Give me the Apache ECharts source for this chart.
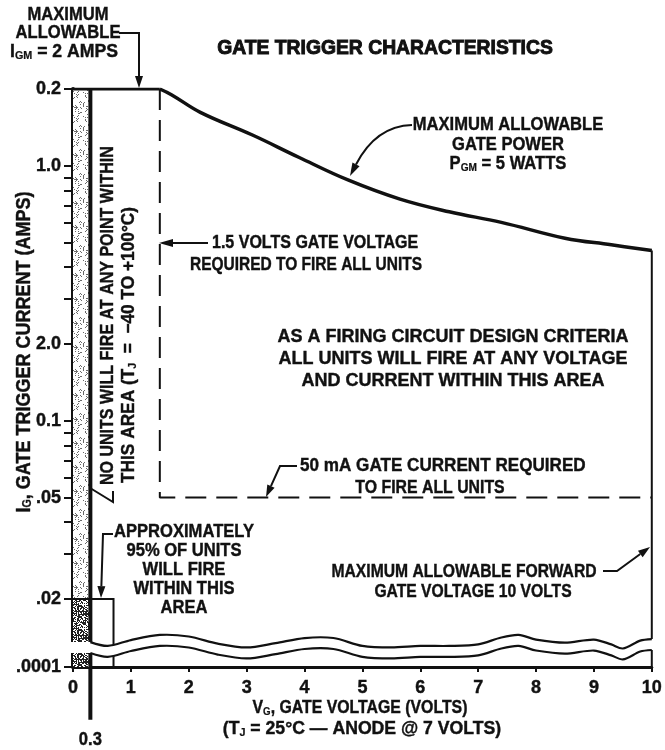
<!DOCTYPE html>
<html>
<head>
<meta charset="utf-8">
<script src="https://cdn.jsdelivr.net/npm/echarts@6/dist/echarts.min.js"></script>
<style>
  html, body { margin: 0; padding: 0; background: #fff; }
  #chart { width: 665px; height: 750px; }
</style>
</head>
<body>
<div id="chart"></div>
<script>
// ---- data -------------------------------------------------------------
// gate voltage axis (volts)
const xTickVolts = [0, 1, 2, 3, 4, 5, 6, 7, 8, 9, 10];

// gate current axis: labelled currents (amps) and the text printed beside them
const yTickAmps = [2, 1, 0.2, 0.1, 0.05, 0.02];
const yTickText = ['0.2', '1.0', '2.0', '0.1', '.05', '.02'];
const yMinorAmps = [0.9, 0.8, 0.7, 0.6, 0.5, 0.4, 0.3, 0.09, 0.08, 0.07, 0.06, 0.04, 0.03];
const floorText = '.0001';

// maximum gate current I_GM held flat up to 1.5 V
const igmVolts = [0, 1.5];
const igmAmps = [2, 2];

// maximum gate power curve P_GM = 5 W
const powerVolts = [1.5, 1.7, 2.2, 3.1, 3.9, 4.75, 5.65, 6.5, 7.4, 8.5, 9.3, 10];
const powerAmps = [2.0, 1.9, 1.62, 1.32, 1.08, 0.88, 0.74, 0.66, 0.60, 0.52, 0.49, 0.465];

// gate voltage / current needed to fire all units
const fireVolts = 1.5;
const fireAmps = 0.05;

// no-fire strip and the 95 % firing box
const noFireVolts = [0, 0.3];
const boxRightVolts = 0.7;
const boxTopAmps = 0.02;

// maximum forward gate voltage
const maxGateVolts = 10;

// axis break below .02 A (values in decades of amps on the current axis)
const breakVolts = [0.3, 0.6, 1.0, 1.5, 2.0, 2.5, 3.0, 3.5, 4.0, 4.5, 5.0, 5.5, 6.0, 6.5, 7.0, 7.4, 7.7, 8.0, 8.5, 9.0, 9.3, 9.5, 9.8, 10.0];
const breakUpper = [-1.868, -1.883, -1.860, -1.840, -1.846, -1.874, -1.889, -1.872, -1.852, -1.852, -1.883, -1.889, -1.883, -1.883, -1.877, -1.850, -1.840, -1.858, -1.870, -1.858, -1.877, -1.893, -1.862, -1.856];
const breakLower = [-1.911, -1.926, -1.903, -1.883, -1.889, -1.917, -1.932, -1.915, -1.895, -1.895, -1.926, -1.932, -1.926, -1.926, -1.920, -1.893, -1.883, -1.901, -1.913, -1.901, -1.920, -1.936, -1.905, -1.899];
const axisFloor = -1.9656;  // bottom of the current axis, beyond the break
const tickDrop = 0.207;     // how far the 0.3 V line runs below the voltage axis

// ---- helpers -----------------------------------------------------------
const LG = Math.log10;
const INK = '#111';
const FONT = "'Liberation Sans', Arial, sans-serif";
const SQUEEZE = 0.92;       // narrow lettering
const TOP = LG(igmAmps[0]);

function stipple(size, threshold, color) {
  const c = document.createElement('canvas');
  c.width = size; c.height = size;
  const g = c.getContext('2d');
  g.fillStyle = '#fff';
  g.fillRect(0, 0, size, size);
  g.fillStyle = color;
  for (let i = 0; i < size; i++) {
    for (let j = 0; j < size; j++) {
      const h = (i * 7919 + j * 104729 + i * j * 31 + (i ^ j) * 13) % 97;
      if (h < threshold) g.fillRect(i, j, 1, 1);
    }
  }
  return c;
}
const lightDots = stipple(24, 14, '#6a6a6a');
const denseDots = stipple(24, 52, '#222');

const yTickLogs = yTickAmps.map(LG).concat([axisFloor]);
const yTickLabels = yTickText.concat([floorText]);
const yAllTicks = yTickLogs.concat(yMinorAmps.map(LG));

function tickLabel(v) {
  for (let i = 0; i < yTickLogs.length; i++) {
    if (Math.abs(yTickLogs[i] - v) < 1e-6) return yTickLabels[i];
  }
  return '';
}

function lineSeries(points, width, extra) {
  return Object.assign({
    type: 'line',
    data: points,
    symbol: 'none',
    silent: true,
    animation: false,
    lineStyle: { color: INK, width: width, cap: 'butt', join: 'miter' },
    z: 3
  }, extra || {});
}

// arrow: polyline ending in a filled head
function arrow(points, headLen, headW) {
  const n = points.length;
  const [x1, y1] = points[n - 1];
  const [x0, y0] = points[n - 2];
  const a = Math.atan2(y1 - y0, x1 - x0);
  const bx = x1 - headLen * Math.cos(a), by = y1 - headLen * Math.sin(a);
  const nx = -Math.sin(a) * headW / 2, ny = Math.cos(a) * headW / 2;
  const shaft = points.slice(0, n - 1).concat([[bx, by]]);
  return [
    { type: 'polyline', shape: { points: shaft }, style: { stroke: INK, lineWidth: 2, fill: null } },
    { type: 'polygon', shape: { points: [[x1, y1], [bx + nx, by + ny], [bx - nx, by - ny]] }, style: { fill: INK } }
  ];
}
function curvedArrow(p0, c, p1, headLen, headW) {
  const a = Math.atan2(p1[1] - c[1], p1[0] - c[0]);
  const bx = p1[0] - headLen * Math.cos(a), by = p1[1] - headLen * Math.sin(a);
  const nx = -Math.sin(a) * headW / 2, ny = Math.cos(a) * headW / 2;
  return [
    { type: 'bezierCurve', shape: { x1: p0[0], y1: p0[1], cpx1: c[0], cpy1: c[1], x2: bx, y2: by }, style: { stroke: INK, lineWidth: 2, fill: null } },
    { type: 'polygon', shape: { points: [p1, [bx + nx, by + ny], [bx - nx, by - ny]] }, style: { fill: INK } }
  ];
}

function richSet(size, weight) {
  return {
    m: { fontFamily: FONT, fontWeight: 'bold', fontSize: size, fill: INK, stroke: INK, lineWidth: weight, lineHeight: size + 1 },
    s: { fontFamily: FONT, fontWeight: 'bold', fontSize: Math.round(size * 0.62), fill: INK, stroke: INK, lineWidth: weight * 0.6,
         lineHeight: size + 1, padding: [Math.round(size * 0.4), 0, 0, 0] }
  };
}
function label(x, y, text, opts) {
  opts = opts || {};
  const size = opts.size || 18;
  const weight = opts.weight || 0.4;
  return {
    type: 'text', x: x, y: y, silent: true,
    rotation: opts.rotation || 0,
    scaleX: opts.scaleX || SQUEEZE,
    style: Object.assign({
      text: text, rich: richSet(size, weight),
      fontFamily: FONT, fontWeight: 'bold', fontSize: size, fill: INK, stroke: INK, lineWidth: weight,
      align: 'center', verticalAlign: 'middle', lineHeight: size + 1
    }, opts.style)
  };
}

// ---- chart -------------------------------------------------------------
const chart = echarts.init(document.getElementById('chart'), null, { renderer: 'canvas' });

const axisFont = { color: INK, fontFamily: FONT, fontWeight: 'bold', fontSize: 18, textBorderColor: INK, textBorderWidth: 0.4 };
const option = {
  animation: false,
  backgroundColor: '#fff',
  grid: { left: 73, right: 13, top: 89, bottom: 83, containLabel: false },
  xAxis: {
    type: 'value', min: 0, max: 10, interval: 1,
    axisLine: { onZero: false, lineStyle: { color: INK, width: 3 } },
    axisTick: { show: true, length: 5, lineStyle: { color: INK, width: 2 } },
    axisLabel: Object.assign({ margin: 12, customValues: xTickVolts, formatter: v => String(v) }, axisFont),
    splitLine: { show: false }
  },
  yAxis: {
    type: 'value', min: axisFloor, max: TOP,
    axisLine: { show: true, onZero: false, lineStyle: { color: INK, width: 4 } },
    axisTick: { show: true, length: 9, customValues: yAllTicks, lineStyle: { color: INK, width: 2 } },
    axisLabel: Object.assign({ margin: 12, customValues: yTickLogs, formatter: tickLabel }, axisFont),
    splitLine: { show: false }
  },
  series: [
    // no-fire strip, lighter above .02 A and denser below
    {
      type: 'custom', coordinateSystem: 'cartesian2d', silent: true, animation: false, z: 1,
      data: [
        [noFireVolts[0], TOP, noFireVolts[1], LG(boxTopAmps), 0],
        [noFireVolts[0], LG(boxTopAmps), noFireVolts[1], axisFloor, 1]
      ],
      renderItem: function (params, api) {
        const p0 = api.coord([api.value(0), api.value(1)]);
        const p1 = api.coord([api.value(2), api.value(3)]);
        return {
          type: 'rect',
          shape: { x: p0[0], y: p0[1], width: p1[0] - p0[0], height: p1[1] - p0[1] },
          style: { fill: { image: api.value(4) ? denseDots : lightDots, repeat: 'repeat' } }
        };
      }
    },
    lineSeries(igmVolts.map((v, i) => [v, LG(igmAmps[i])]), 3),
    lineSeries(powerVolts.map((v, i) => [v, LG(powerAmps[i])]), 3.5, { smooth: 0.4 }),
    lineSeries([[maxGateVolts, LG(powerAmps[powerAmps.length - 1])], [maxGateVolts, axisFloor]], 2),
    lineSeries([[fireVolts, TOP], [fireVolts, LG(fireAmps)], [maxGateVolts, LG(fireAmps)]], 2,
      { lineStyle: { color: INK, width: 2, type: [21, 10], cap: 'butt' } }),
    lineSeries([[noFireVolts[1], TOP], [noFireVolts[1], axisFloor - tickDrop]], 4, { clip: false }),
    lineSeries([[noFireVolts[0], LG(boxTopAmps)], [boxRightVolts, LG(boxTopAmps)], [boxRightVolts, axisFloor]], 2),
    // axis break: white gap bounded by two wavy lines
    {
      type: 'custom', coordinateSystem: 'cartesian2d', silent: true, animation: false, z: 10, clip: false,
      data: [[0, 0]],
      renderItem: function (params, api) {
        const up = breakVolts.map((v, i) => api.coord([v, breakUpper[i]]));
        const lo = breakVolts.map((v, i) => api.coord([v, breakLower[i]]));
        const leftUp = api.coord([-0.12, breakUpper[0]]);
        const leftLo = api.coord([-0.12, breakLower[0]]);
        const rightUp = api.coord([maxGateVolts + 0.05, breakUpper[breakUpper.length - 1]]);
        const rightLo = api.coord([maxGateVolts + 0.05, breakLower[breakLower.length - 1]]);
        const poly = [leftUp].concat(up, [rightUp, rightLo], lo.slice().reverse(), [leftLo]);
        return {
          type: 'group',
          children: [
            { type: 'polygon', shape: { points: poly }, style: { fill: '#fff' } },
            { type: 'polyline', shape: { points: up, smooth: 0.3 }, style: { stroke: INK, lineWidth: 2.2, fill: null } },
            { type: 'polyline', shape: { points: lo, smooth: 0.3 }, style: { stroke: INK, lineWidth: 2.2, fill: null } }
          ]
        };
      }
    }
  ]
};
chart.setOption(option);

// ---- annotations -------------------------------------------------------
const px = (v, a) => chart.convertToPixel({ gridIndex: 0 }, [v, a]);
const p03 = px(noFireVolts[1], axisFloor);

const g = [];
// title
g.push(label(385, 48, 'GATE TRIGGER CHARACTERISTICS', { size: 21, weight: 1.0 }));

// I_GM callout
g.push(label(68, 15, 'MAXIMUM'));
g.push(label(68, 33, 'ALLOWABLE'));
g.push(label(64, 52, '{m|I}{s|GM}{m| = 2 AMPS}', { scaleX: 0.98 }));
g.push(...arrow([[119, 33], [139, 33], [139, 88]], 12, 8));

// gate power callout
g.push(label(508, 125, 'MAXIMUM ALLOWABLE'));
g.push(label(508, 145, 'GATE POWER'));
g.push(label(508, 164, '{m|P}{s|GM}{m| = 5 WATTS}'));
g.push(...curvedArrow([412, 125], [376, 126], [350, 176], 13, 8));

// 1.5 V callout
g.push(label(212, 243, '1.5 VOLTS GATE VOLTAGE', { scaleX: 0.89, style: { align: 'left' } }));
g.push(label(306, 265, 'REQUIRED TO FIRE ALL UNITS', { scaleX: 0.86 }));
g.push(...arrow([[208, 243], [159, 243]], 14, 8));

// design area note
g.push(label(453, 337, 'AS A FIRING CIRCUIT DESIGN CRITERIA', { scaleX: 1 }));
g.push(label(453, 359, 'ALL UNITS WILL FIRE AT ANY VOLTAGE', { scaleX: 1 }));
g.push(label(453, 381, 'AND CURRENT WITHIN THIS AREA', { scaleX: 1 }));

// no-fire strip note (vertical)
g.push(label(108, 485, 'NO UNITS WILL FIRE AT ANY POINT WITHIN', { rotation: Math.PI / 2, scaleX: 0.89, style: { align: 'left' } }));
g.push(label(129, 483, '{m|THIS AREA (T}{s|J}{m|  =  −40 TO +100°C)}', { rotation: Math.PI / 2, scaleX: 0.96, style: { align: 'left' } }));
g.push(...arrow([[113, 491], [113, 502], [77, 480]], 12, 8));

// 50 mA callout
g.push(label(300, 466, '50 mA GATE CURRENT REQUIRED', { scaleX: 0.95, style: { align: 'left' } }));
g.push(label(430, 488, 'TO FIRE ALL UNITS', { scaleX: 0.88 }));
g.push(...arrow([[297, 466], [280, 466], [266, 497]], 12, 8));

// 95 % box note
g.push(label(184, 532, 'APPROXIMATELY'));
g.push(label(184, 551, '95% OF UNITS'));
g.push(label(184, 570, 'WILL FIRE'));
g.push(label(184, 589, 'WITHIN THIS'));
g.push(label(184, 608, 'AREA'));
g.push(...arrow([[113, 534], [103, 534], [101, 598]], 12, 8));

// forward gate voltage note
g.push(label(464, 572, 'MAXIMUM ALLOWABLE FORWARD', { scaleX: 0.87 }));
g.push(label(473, 592, 'GATE VOLTAGE 10 VOLTS', { scaleX: 0.87 }));
g.push(...arrow([[603, 571], [617, 571], [650, 547]], 12, 8));

// axis titles
g.push(label(24, 352, '{m|I}{s|G}{m|, GATE TRIGGER CURRENT (AMPS)}', { size: 20, rotation: Math.PI / 2, scaleX: 0.9 }));
g.push(label(360, 708, '{m|V}{s|G}{m|, GATE VOLTAGE (VOLTS)}', { scaleX: 0.88 }));
g.push(label(362, 729, '{m|(T}{s|J}{m| = 25°C — ANODE @ 7 VOLTS)}', { scaleX: 0.98 }));
g.push(label(p03[0], 740, String(noFireVolts[1])));

chart.setOption({ graphic: { elements: g } });
</script>
</body>
</html>
